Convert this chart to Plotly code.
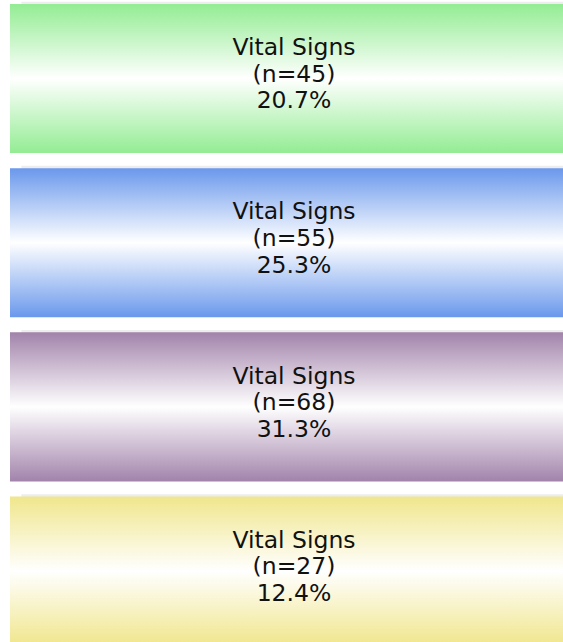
"""
Stacked gradient boxes: share of records per group (Vital Signs).
"""

import plotly.graph_objects as go

# data
LABELS = ["Vital Signs", "Vital Signs", "Vital Signs", "Vital Signs"]
COUNTS = [45, 55, 68, 27]
PERCENTS = [20.7, 25.3, 31.3, 12.4]
COLORS = ["#93EC93", "#6A98EC", "#A283AB", "#F0E68C"]

FONT = "DejaVu Sans"
HALF = 0.454          # half height of a box, in row units
LINE_STEP = 0.162     # distance between text lines, in row units
SHADOW = "#EDEDED"

fig = go.Figure()

for i, (label, n, pct, color) in enumerate(zip(LABELS, COUNTS, PERCENTS, COLORS)):
    top, bottom = i - HALF, i + HALF

    # faint shadow peeking out above the box
    fig.add_trace(go.Scatter(
        x=[0.02, 1.05, 1.05, 0.02, 0.02],
        y=[top - 0.014, top - 0.014, bottom - 0.014, bottom - 0.014, top - 0.014],
        fill="toself", fillcolor=SHADOW, mode="none", hoverinfo="skip",
    ))

    # the box itself, color -> white -> color from top to bottom
    fig.add_trace(go.Scatter(
        x=[0, 1.05, 1.05, 0, 0],
        y=[top, top, bottom, bottom, top],
        fill="toself", mode="none", hoverinfo="skip",
        fillgradient=dict(
            type="vertical",
            colorscale=[[0, color], [0.5, "#FFFFFF"], [1, color]],
        ),
    ))

    lines = [label, f"(n={n})", f"{pct:.1f}%"]
    fig.add_trace(go.Scatter(
        x=[0.5, 0.5, 0.5],
        y=[i - 0.178 + k * LINE_STEP for k in range(3)],
        text=lines, mode="text", hoverinfo="skip",
        textfont=dict(family=FONT, size=23.5, color="#111111"),
    ))

fig.update_layout(
    width=563, height=642,
    margin=dict(l=0, r=0, t=0, b=0),
    paper_bgcolor="white", plot_bgcolor="white",
    showlegend=False,
    xaxis=dict(visible=False, range=[-0.0176, 0.9736], fixedrange=True),
    yaxis=dict(visible=False, range=[3.432, -0.478], fixedrange=True),
)

# page body margin would push the figure 8px in
fig.write_html(
    "out.html",
    config={"displayModeBar": False},
    post_script="document.body.style.margin='0';document.body.style.overflow='hidden';",
)
